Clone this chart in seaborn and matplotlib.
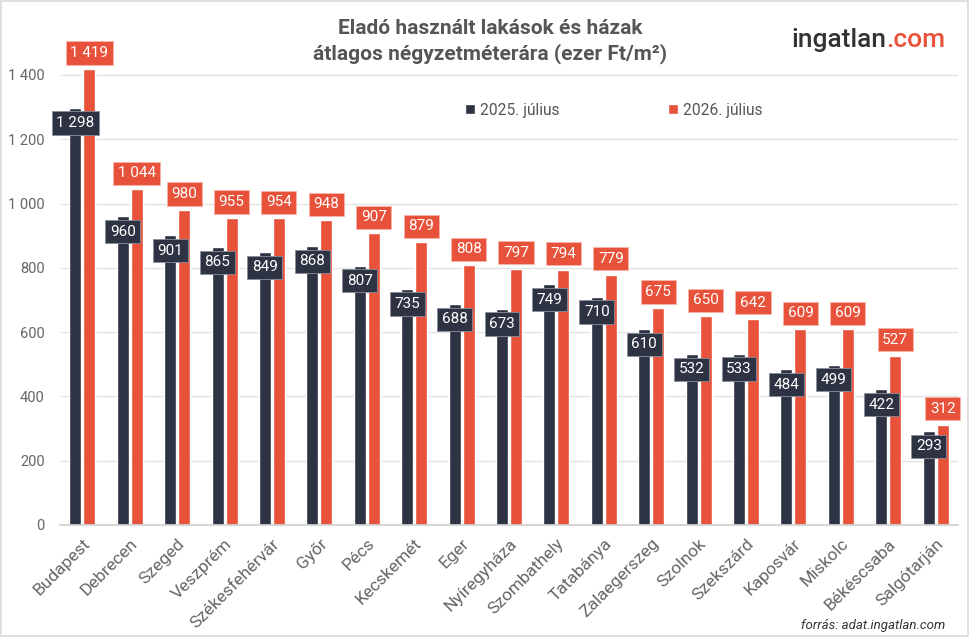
import matplotlib.pyplot as plt
import seaborn as sns
import pandas as pd
import numpy as np
from matplotlib.patches import Rectangle

# Data
cities = ["Budapest", "Debrecen", "Szeged", "Veszprém", "Székesfehérvár", "Győr", "Pécs",
	"Kecskemét", "Eger", "Nyíregyháza", "Szombathely", "Tatabánya", "Zalaegerszeg",
	"Szolnok", "Szekszárd", "Kaposvár", "Miskolc", "Békéscsaba", "Salgótarján"]
price2025 = [1298, 960, 901, 865, 849, 868, 807, 735, 688, 673, 749, 710, 610, 532, 533, 484, 499, 422, 293]
price2026 = [1419, 1044, 980, 955, 954, 948, 907, 879, 808, 797, 794, 779, 675, 650, 642, 609, 609, 527, 312]
series = ["2025. július", "2026. július"]
yticks = [0, 200, 400, 600, 800, 1000, 1200, 1400]

dark = "#2d3343"
orange = "#e8523a"

def fmt(v):
	# thousands separated by a space
	return "{:,}".format(v).replace(",", " ")

data = pd.DataFrame({
	"city": cities * 2,
	"price": price2025 + price2026,
	"period": [series[0]] * len(cities) + [series[1]] * len(cities),
})

sns.set_theme(style = "white")
plt.rcParams["font.family"] = ["Roboto", "DejaVu Sans"]

fig = plt.figure(figsize = (9.74, 6.39), dpi = 100)
ax = fig.add_axes([60 / 974, 1 - 525 / 639, (958 - 60) / 974, (450 / 639) * 1450 / 1400])

sns.barplot(
	data = data,
	x = "city",
	y = "price",
	hue = "period",
	palette = [dark, orange],
	width = 0.59,
	gap = 0.14,
	saturation = 1,
	ax = ax,
)

ax.set_xlim(-0.47, 18.47)
ax.set_ylim(0, 1450)
ax.set_yticks(yticks)
ax.set_yticklabels([fmt(t) for t in yticks], color = "#666666", fontsize = 10.5)
ax.yaxis.grid(True, color = "#e3e3e3", linewidth = 1)
ax.set_axisbelow(True)
for s in ["top", "right", "left"]:
	ax.spines[s].set_visible(False)
ax.spines["bottom"].set_color("#d0d0d0")
ax.tick_params(axis = "y", length = 0, pad = 11)
ax.tick_params(axis = "x", length = 0, pad = 8)
ax.set_xlabel("")
ax.set_ylabel("")
plt.setp(ax.get_xticklabels(), rotation = 45, ha = "right", rotation_mode = "anchor",
	color = "#666666", fontsize = 12.5)

# value labels
for bar, v in zip(ax.containers[0], price2025):
	x = bar.get_x() + bar.get_width() / 2
	ax.annotate(fmt(v), (x, bar.get_height()), xytext = (0, -11), textcoords = "offset points",
		ha = "center", va = "center", color = "white", fontsize = 11, clip_on = False,
		bbox = dict(boxstyle = "square,pad=0.3", fc = dark, ec = "#8a8f9c", lw = 0.6))
for bar, v in zip(ax.containers[1], price2026):
	x = bar.get_x() + bar.get_width() / 2
	ax.annotate(fmt(v), (x, bar.get_height()), xytext = (0, 11.5), textcoords = "offset points",
		ha = "center", va = "center", color = "white", fontsize = 11, clip_on = False,
		bbox = dict(boxstyle = "square,pad=0.3", fc = orange, ec = "#f6b4a8", lw = 0.6))

# legend
ax.legend(loc = "center", bbox_to_anchor = (614 / 974, 1 - 110 / 639), bbox_transform = fig.transFigure,
	ncol = 2, frameon = False, handlelength = 0.6, handleheight = 0.6, handletextpad = 0.35,
	columnspacing = 7.0, fontsize = 11.2, labelcolor = "#555555")

# title and logo
fig.text(490 / 974, 1 - 29 / 639, "Eladó használt lakások és házak", ha = "center", va = "center",
	fontsize = 15, fontweight = "bold", color = "#555555")
fig.text(490 / 974, 1 - 54 / 639, "átlagos négyzetméterára (ezer Ft/m²)", ha = "center", va = "center",
	fontsize = 15, fontweight = "bold", color = "#555555")
t1 = fig.text(791 / 974, 1 - 40 / 639, "ingatlan", ha = "left", va = "center",
	fontsize = 19, fontweight = "medium", color = "#333333")
fig.canvas.draw()
bb = t1.get_window_extent().transformed(fig.transFigure.inverted())
fig.text(bb.x1, 1 - 40 / 639, ".com", ha = "left", va = "center",
	fontsize = 19, fontweight = "medium", color = orange)

fig.text(945 / 974, 1 - 625 / 639, "forrás: adat.ingatlan.com", ha = "right", va = "center",
	fontsize = 9.5, fontstyle = "italic", color = "#333333")

# thin frame round the picture
fig.patches.append(Rectangle((1 / 974, 3 / 639), 967 / 974, 635 / 639, transform = fig.transFigure,
	fill = False, ec = "#d9d9d9", lw = 1.2))

fig.savefig("out.png", dpi = 100)
